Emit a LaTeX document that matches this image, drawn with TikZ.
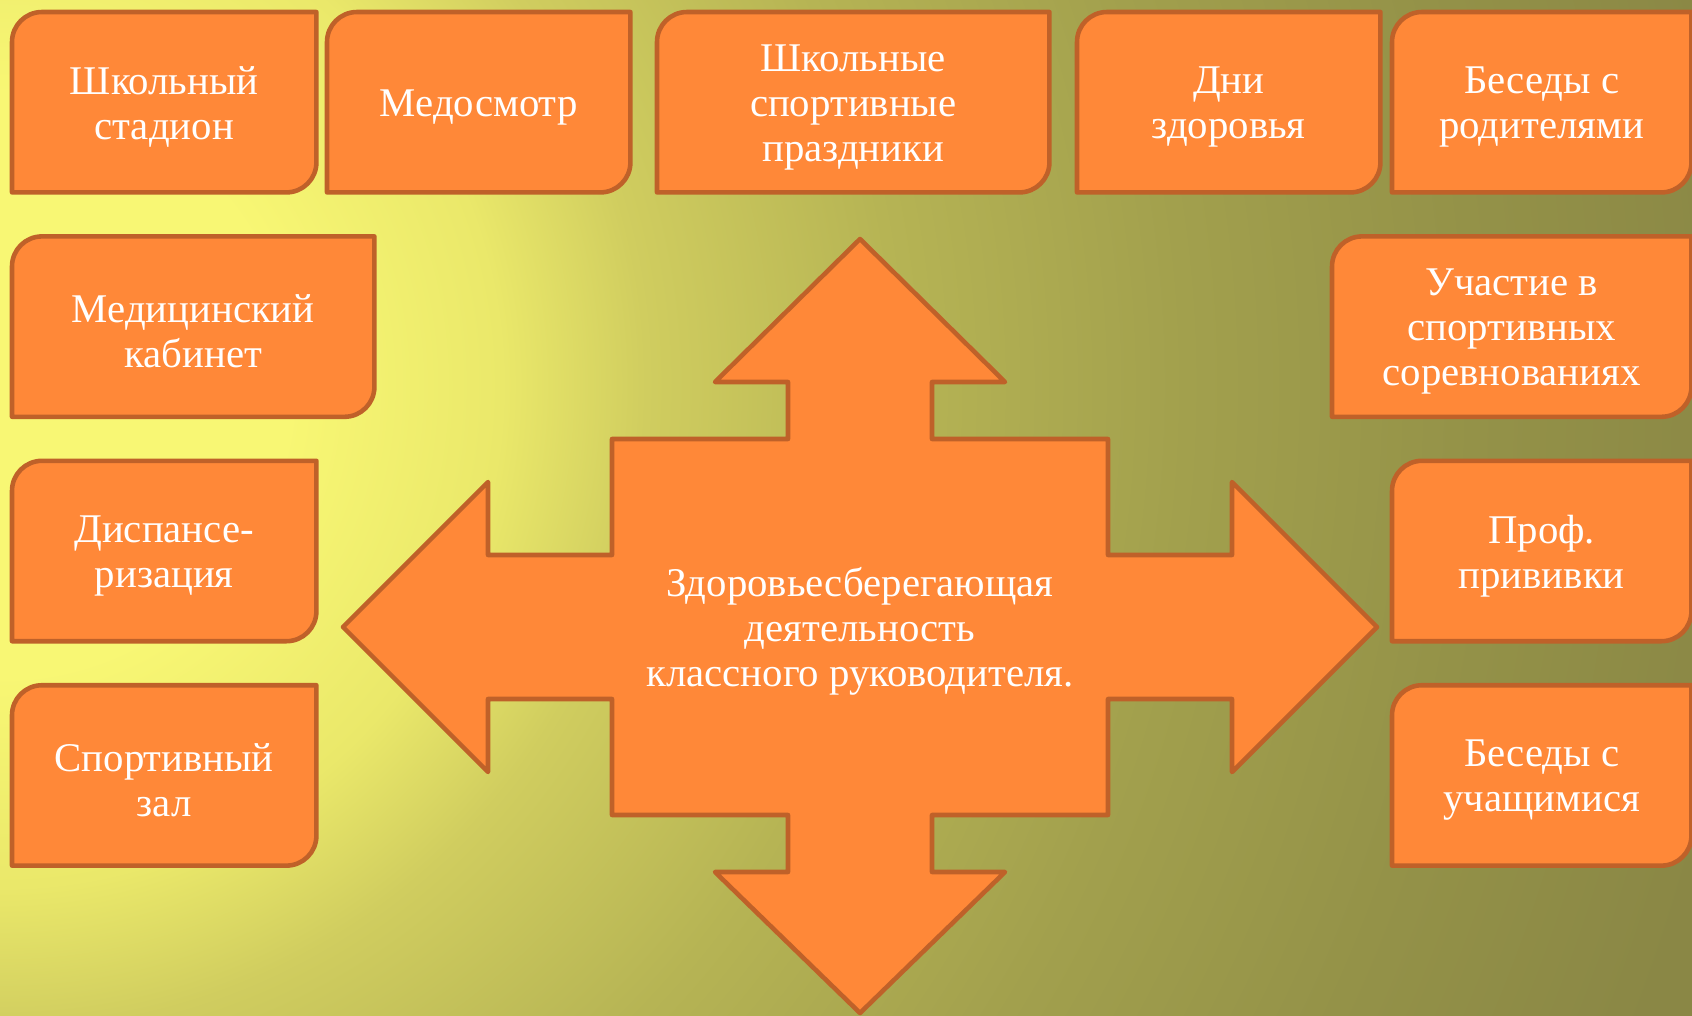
\documentclass[tikz,border=0pt]{standalone}
\usepackage{fontspec}
\setmainfont{Liberation Serif}
\usetikzlibrary{positioning,backgrounds}
\definecolor{cFill}{HTML}{FF8838}
\definecolor{cEdge}{HTML}{BF6129}
\definecolor{bgA}{HTML}{F8F774}
\definecolor{bgB}{HTML}{EAE86A}
\definecolor{bgC}{HTML}{D0CD5F}
\definecolor{bgD}{HTML}{B6B454}
\definecolor{bgE}{HTML}{A2A04D}
\definecolor{bgF}{HTML}{949248}
\definecolor{bgG}{HTML}{8A8745}
\pgfdeclareradialshading{glow}{\pgfpoint{0bp}{0bp}}{color(0bp)=(bgA); color(3.8bp)=(bgA);
  color(6.6bp)=(bgB); color(8.5bp)=(bgC); color(11.8bp)=(bgD); color(15.6bp)=(bgE);
  color(19.4bp)=(bgF); color(23.2bp)=(bgG); color(50bp)=(bgG)}

\begin{document}
\begin{tikzpicture}[
    font=\fontsize{11.6}{12.8}\selectfont,
    card/.style={align=center, text=white, inner sep=0pt, minimum height=17.9mm},
    edge/.style={draw=cEdge, fill=cFill, line width=1.3pt, line join=round},
  ]
  \useasboundingbox (0,0) rectangle (16.92,10.15);
  % --- top row ---
  \node[card, minimum width=30.3mm, anchor=north west] (stad) at (0.12,9.98) {Школьный\\стадион};
  \node[card, minimum width=30.2mm, anchor=north west] (medo) at (3.27,9.98) {Медосмотр};
  \node[card, minimum width=39.1mm, anchor=north west] (prazd) at (6.57,9.98) {Школьные\\спортивные\\праздники};
  \node[card, minimum width=30.2mm, anchor=north west] (dni) at (10.77,9.98) {Дни\\здоровья};
  \node[card, minimum width=29.8mm, anchor=north west] (rod) at (13.92,9.98) {Беседы с\\родителями};

  % --- left column ---
  \node[card, minimum width=36.1mm, below right=4.4mm and 0mm of stad.south west] (medk) {Медицинский\\кабинет};
  \node[card, minimum width=30.3mm, below right=4.4mm and 0mm of medk.south west] (disp) {Диспансе-\\ризация};
  \node[card, minimum width=30.3mm, below right=4.4mm and 0mm of disp.south west] (zal) {Спортивный\\зал};

  % --- right column ---
  \node[card, minimum width=35.8mm, below left=4.4mm and 0mm of rod.south east] (uch) {Участие в\\спортивных\\соревнованиях};
  \node[card, minimum width=29.8mm, below left=4.4mm and 0mm of uch.south east] (prof) {Проф.\\прививки};
  \node[card, minimum width=29.8mm, below left=4.4mm and 0mm of prof.south east] (besu) {Беседы с\\учащимися};

  % --- centre ---
  \node[align=center, text=white] (core) at (8.60,3.84)
    {Здоровьесберегающая\\деятельность\\классного руководителя.};

  \begin{scope}[on background layer]
    \begin{scope}
      \clip (0,0) rectangle (16.92,10.15);
      \shade[shading=glow] (0,6.3) circle (19);
    \end{scope}
    \foreach \n in {stad,medo,prazd,dni,rod,medk,disp,zal,uch,prof,besu}
      \draw[edge] ([yshift=.5mm]\n.south west) -- ([yshift=-2.5mm]\n.north west)
        arc[start angle=180, end angle=90, radius=3mm] -- ([yshift=.5mm]\n.north east)
        -- ([yshift=3.5mm]\n.south east) arc[start angle=0, end angle=-90, radius=3mm] -- cycle;
    \draw[edge, shift={([yshift=0.4mm]core.center)}] (0,3.88) -- (1.45,2.45) -- (0.72,2.45) -- (0.72,1.88)
      -- (2.48,1.88) -- (2.48,0.72) -- (3.72,0.72) -- (3.72,1.45) -- (5.17,0)
      -- (3.72,-1.45) -- (3.72,-0.72) -- (2.48,-0.72) -- (2.48,-1.88) -- (0.72,-1.88)
      -- (0.72,-2.45) -- (1.45,-2.45) -- (0,-3.86) -- (-1.45,-2.45) -- (-0.72,-2.45)
      -- (-0.72,-1.88) -- (-2.48,-1.88) -- (-2.48,-0.72) -- (-3.72,-0.72) -- (-3.72,-1.45)
      -- (-5.17,0) -- (-3.72,1.45) -- (-3.72,0.72) -- (-2.48,0.72) -- (-2.48,1.88)
      -- (-0.72,1.88) -- (-0.72,2.45) -- (-1.45,2.45) -- cycle;
  \end{scope}
\end{tikzpicture}
\end{document}
